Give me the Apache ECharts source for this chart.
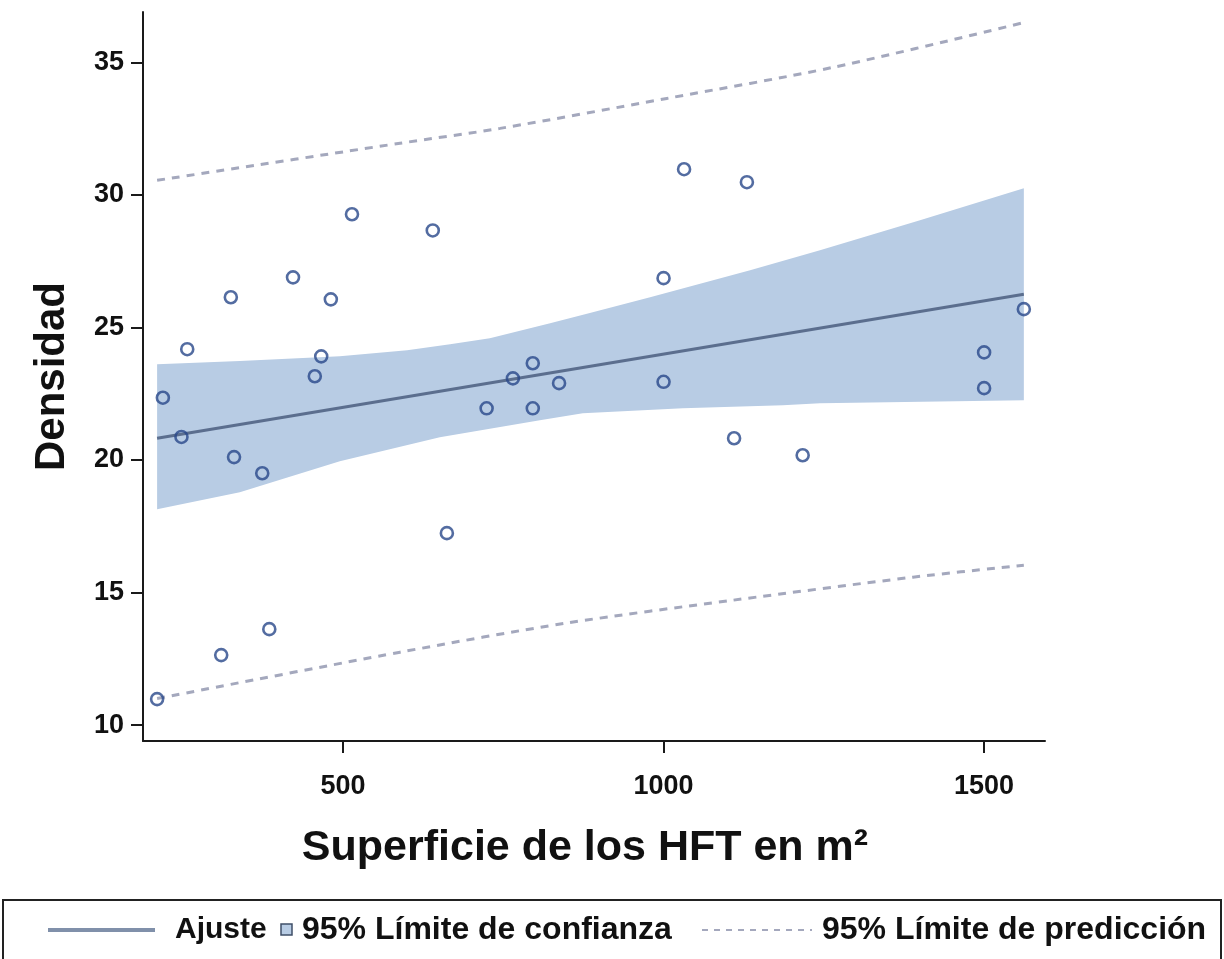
<!DOCTYPE html>
<html>
<head>
<meta charset="utf-8">
<script src="https://cdn.jsdelivr.net/npm/echarts@6/dist/echarts.min.js"></script>
<style>
  html, body { margin: 0; padding: 0; background: #ffffff; }
  #chart { width: 1224px; height: 959px; }
</style>
</head>
<body>
<div id="chart"></div>
<script>
// Axis ticks
const xTicks = [500, 1000, 1500];
const yTicks = [10, 15, 20, 25, 30, 35];

// Observed HFT: [superficie m2, densidad]
const observations = [
  [210, 10.98], [219, 22.35], [248, 20.87], [257, 24.18], [310, 12.64],
  [325, 26.14], [330, 20.11], [374, 19.50], [385, 13.62], [422, 26.89],
  [456, 23.16], [466, 23.91], [481, 26.06], [514, 29.27], [640, 28.66],
  [662, 17.24], [724, 21.95], [765, 23.08], [796, 23.65], [796, 21.95],
  [837, 22.90], [1000, 26.86], [1000, 22.95], [1032, 30.97], [1110, 20.82],
  [1130, 30.48], [1217, 20.18], [1500, 24.06], [1500, 22.71], [1562, 25.69]
];

// Fitted line
const fitLine = [[210, 20.82], [1562, 26.25]];

// 95% confidence band edges
const confUpper = [
  [210, 23.61], [339, 23.73], [495, 23.91], [600, 24.14], [667, 24.37],
  [729, 24.59], [823, 25.16], [885, 25.55], [979, 26.14], [1135, 27.16],
  [1244, 27.91], [1400, 29.04], [1562, 30.25]
];
const confLower = [
  [210, 18.14], [339, 18.78], [495, 19.95], [651, 20.86], [807, 21.50],
  [874, 21.76], [1030, 21.95], [1186, 22.07], [1244, 22.14], [1562, 22.25]
];

// 95% prediction limits
const predUpper = [
  [210, 30.55], [589, 31.95], [745, 32.51], [1005, 33.64], [1264, 34.81], [1562, 36.50]
];
const predLower = [
  [210, 11.00], [589, 12.75], [849, 13.85], [1108, 14.71], [1389, 15.58], [1562, 16.03]
];

const FONT = '"Liberation Sans", Arial, Helvetica, sans-serif';
const BAND = '#b8cce4';
const FIT = '#5b6e8e';
const DASH = '#a4a8bd';
const DOT = '#28478a';

const chart = echarts.init(document.getElementById('chart'), null, { renderer: 'canvas' });

const option = {
  animation: false,
  backgroundColor: '#ffffff',
  textStyle: { fontFamily: FONT },
  grid: {
    left: 143, right: 179, top: 12, bottom: 218,
    containLabel: false, outerBoundsMode: 'none'
  },
  xAxis: {
    type: 'value',
    min: 188, max: 1595,
    name: 'Superficie de los HFT en m²',
    nameLocation: 'middle',
    nameGap: 86,
    nameTextStyle: { fontFamily: FONT, fontSize: 43, fontWeight: 'bold', color: '#111',
                     padding: [0, 18, 0, 0] },
    axisLine: { show: true, onZero: false, lineStyle: { color: '#1a1a1a', width: 2 } },
    axisTick: { show: true, length: 12, customValues: xTicks, lineStyle: { color: '#1a1a1a', width: 2 } },
    axisLabel: {
      customValues: xTicks, margin: 32,
      formatter: v => String(v),
      fontFamily: FONT, fontSize: 27, fontWeight: 'bold', color: '#111'
    },
    splitLine: { show: false }
  },
  yAxis: {
    type: 'value',
    min: 9.4, max: 36.9,
    name: 'Densidad',
    nameLocation: 'middle',
    nameRotate: 90,
    nameGap: 70,
    nameTextStyle: { fontFamily: FONT, fontSize: 42, fontWeight: 'bold', color: '#111' },
    axisLine: { show: true, onZero: false, lineStyle: { color: '#1a1a1a', width: 2 } },
    axisTick: { show: true, length: 12, customValues: yTicks, lineStyle: { color: '#1a1a1a', width: 2 } },
    axisLabel: {
      customValues: yTicks, margin: 19,
      fontFamily: FONT, fontSize: 27, fontWeight: 'bold', color: '#111'
    },
    splitLine: { show: false }
  },
  series: [
    {
      name: '95% Límite de confianza',
      type: 'custom',
      silent: true,
      z: 1,
      data: [confUpper[0]],
      renderItem: function (params, api) {
        const pts = confUpper.map(p => api.coord(p))
          .concat(confLower.slice().reverse().map(p => api.coord(p)));
        return { type: 'polygon', shape: { points: pts }, style: { fill: BAND } };
      }
    },
    {
      name: 'Ajuste',
      type: 'line',
      z: 3,
      data: fitLine,
      symbol: 'none',
      lineStyle: { color: FIT, width: 3 }
    },
    {
      name: 'Predicción superior',
      type: 'line',
      z: 3,
      data: predUpper,
      symbol: 'none',
      smooth: 0.3,
      lineStyle: { color: DASH, width: 3, type: [8, 7] }
    },
    {
      name: 'Predicción inferior',
      type: 'line',
      z: 3,
      data: predLower,
      symbol: 'none',
      smooth: 0.3,
      lineStyle: { color: DASH, width: 3, type: [8, 7] }
    },
    {
      name: 'Densidad',
      type: 'scatter',
      z: 4,
      data: observations,
      symbol: 'circle',
      symbolSize: 12,
      itemStyle: { color: 'rgba(0,0,0,0)', borderColor: DOT, borderWidth: 2.6 }
    }
  ],
  graphic: [
    // legend frame
    { type: 'rect', shape: { x: 3, y: 900, width: 1218, height: 70 },
      style: { fill: 'none', stroke: '#222', lineWidth: 2 } },
    // Ajuste
    { type: 'line', shape: { x1: 48, y1: 930, x2: 155, y2: 930 },
      style: { stroke: '#8090aa', lineWidth: 4 } },
    { type: 'text', x: 175, y: 930,
      style: { text: 'Ajuste', fontFamily: FONT, fontSize: 30, fontWeight: 'bold', fill: '#111',
               textAlign: 'left', textVerticalAlign: 'middle' } },
    // 95% Límite de confianza
    { type: 'rect', shape: { x: 281, y: 924, width: 11, height: 11 },
      style: { fill: BAND, stroke: '#3f4f68', lineWidth: 1.5 } },
    { type: 'text', x: 302, y: 930,
      style: { text: '95% Límite de confianza', fontFamily: FONT, fontSize: 32, fontWeight: 'bold', fill: '#111',
               textAlign: 'left', textVerticalAlign: 'middle' } },
    // 95% Límite de predicción
    { type: 'line', shape: { x1: 702, y1: 930, x2: 812, y2: 930 },
      style: { stroke: DASH, lineWidth: 2, lineDash: [6, 6] } },
    { type: 'text', x: 822, y: 930,
      style: { text: '95% Límite de predicción', fontFamily: FONT, fontSize: 32, fontWeight: 'bold', fill: '#111',
               textAlign: 'left', textVerticalAlign: 'middle' } }
  ]
};

chart.setOption(option);
</script>
</body>
</html>
